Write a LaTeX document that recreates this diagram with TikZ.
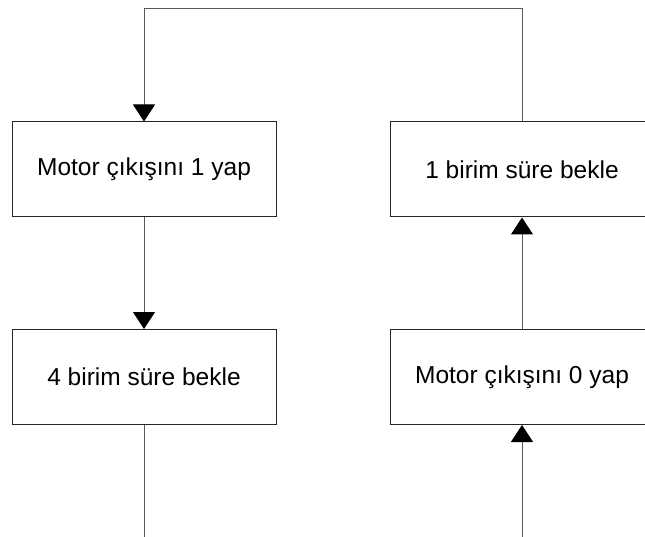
\documentclass[tikz,border=0pt]{standalone}
\usepackage{fontspec}
\setmainfont{Liberation Sans}
\usetikzlibrary{arrows.meta}

\tikzset{
  stepbox/.style={draw=black!85, line width=1pt, minimum width=264pt,
    minimum height=95pt, inner sep=0pt, align=center,
    font=\fontsize{24.5}{28}\selectfont},
  conn/.style={draw=black!65, line width=1pt},
  tip/.style={-{Triangle[width=22pt,length=17pt,black]}}
}

\begin{document}
\begin{tikzpicture}[x=1pt,y=-1pt]
  \useasboundingbox (0,0) rectangle (645,537);
  \clip (0,0) rectangle (645,537);
  \fill[white] (0,0) rectangle (645,537);

  % process steps
  \node[stepbox] (l1) at (144,169.5) {Motor çıkışını 1 yap};
  \node[stepbox] (l2) at (144,377)   {4 birim süre bekle};
  \node[stepbox] (r1) at (522,169.5) {1 birim süre bekle};
  \node[stepbox] (r2) at (522,377)   {Motor çıkışını 0 yap};

  % loop-back and open ends
  \coordinate (topR) at (522,9);
  \coordinate (topL) at (144,9);
  \coordinate (outL) at (144,540);
  \coordinate (inR)  at (522,540);

  % connectors
  \draw[conn,tip] (r1.north) -- (topR) -- (topL) -- (l1.north);
  \draw[conn,tip] (l1.south) -- (l2.north);
  \draw[conn] (l2.south) -- (outL);
  \draw[conn,tip] (inR) -- (r2.south);
  \draw[conn,tip] (r2.north) -- (r1.south);
\end{tikzpicture}
\end{document}
